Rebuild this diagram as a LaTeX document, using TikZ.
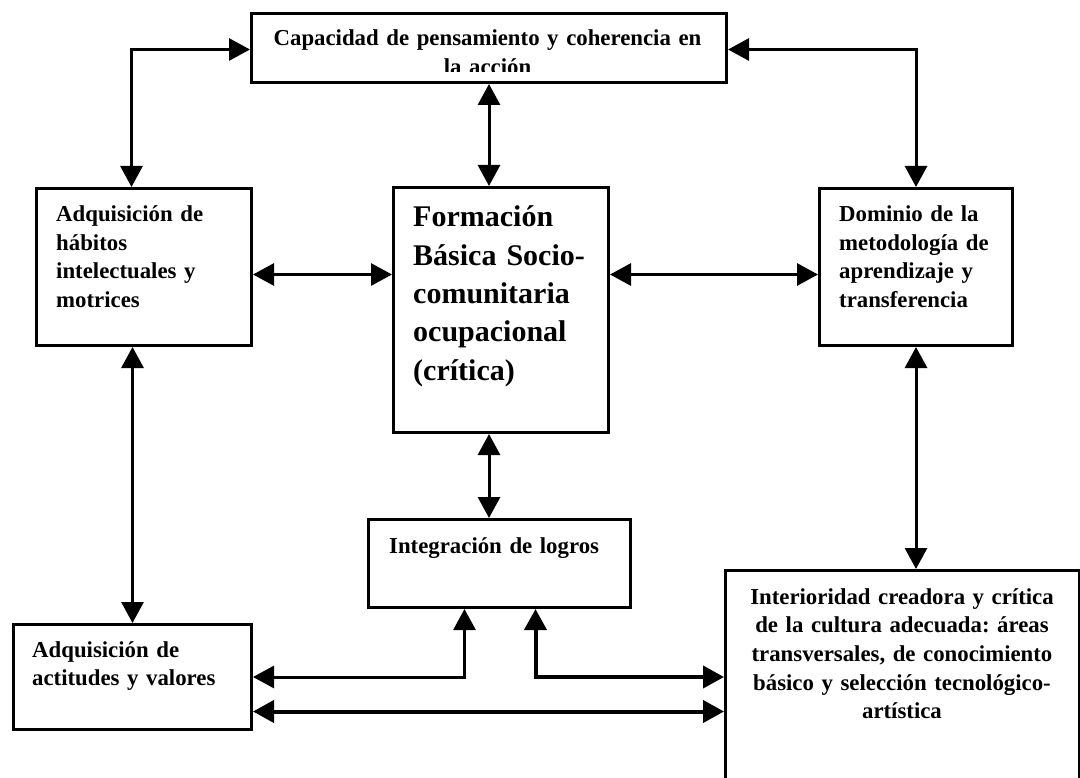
\documentclass[tikz,border=0pt]{standalone}
\usepackage{fontspec}
\setmainfont{Liberation Serif}
\usetikzlibrary{arrows.meta}
\frenchspacing

\tikzset{
  box/.style={draw, line width=3pt, rectangle, inner sep=0pt, anchor=north west},
  txt/.style={inner sep=0pt, anchor=base west, align=left, text width=#1,
              font=\bfseries\fontsize{22.8pt}{28.5pt}\selectfont},
  ctxt/.style={inner sep=0pt, anchor=base, align=center, text width=#1,
              font=\bfseries\fontsize{22.8pt}{28.7pt}\selectfont},
  bigtxt/.style={inner sep=0pt, anchor=base west, align=left, text width=#1,
              font=\bfseries\fontsize{30pt}{38.3pt}\selectfont},
  tip/.tip={Triangle[length=21pt,width=22pt]},
  link/.style={line width=3pt, tip-tip},
  heavylink/.style={line width=4pt, tip-tip}
}

\begin{document}
\begin{tikzpicture}[x=1pt,y=-1pt]
\useasboundingbox (0,0) rectangle (1080,778);

% boxes
\node[box, minimum width=475pt, minimum height=69pt]  (top)   at (250,12)  {};
\node[box, minimum width=215pt, minimum height=157pt] (lbox)  at (35,187)  {};
\node[box, minimum width=215pt, minimum height=245pt] (cbox)  at (392,186) {};
\node[box, minimum width=193pt, minimum height=157pt] (rbox)  at (818,187) {};
\node[box, minimum width=262pt, minimum height=88pt]  (integ) at (367,518) {};
\node[box, minimum width=238pt, minimum height=105pt] (blbox) at (12,623)  {};
\node[box, minimum width=354pt, minimum height=260pt] (brbox) at (724,569) {};

% texts
\node[ctxt=470pt] (toptxt) at (487.5,46) {Capacidad de pensamiento y coherencia en};
\begin{scope}
  \clip (250,12) rectangle (725,72);
  \node[ctxt=470pt] (toptxtb) at (487.5,75) {la acción};
\end{scope}
\node[txt=190pt] (ltxt) at (56,222) {Adquisición de\\hábitos\\intelectuales y\\motrices};
\node[bigtxt=190pt] (ctxt) at (413,227) {Formación\\Básica Socio-\\comunitaria\\ocupacional\\(crítica)};
\node[txt=175pt] (rtxt) at (839,222) {Dominio de la\\metodología de\\aprendizaje y\\transferencia};
\node[txt=235pt] (itxt) at (389,553) {Integración de logros};
\node[txt=215pt] (bltxt) at (32,657) {Adquisición de\\actitudes y valores};
\node[ctxt=345pt] (brtxt) at (902,604) {Interioridad creadora y crítica\\de la cultura adecuada: áreas\\transversales, de conocimiento\\básico y selección tecnológico-\\artística};

% connectors
\draw[link] ([yshift=-1.5pt]top.west) -| ([xshift=-12.5pt]lbox.north);
\draw[link] ([yshift=-1.5pt]top.east) -| (rbox.north);
\draw[link] (top.south) -- (top.south |- cbox.north);
\draw[link] ([yshift=-7.5pt]lbox.east) -- ([yshift=-7.5pt]lbox.east -| cbox.west);
\draw[link] ([yshift=35.5pt]cbox.east) -- ([yshift=35.5pt]cbox.east -| rbox.west);
\draw[link] (top.south |- cbox.south) -- (top.south |- integ.north);
\draw[link] (lbox.south -| blbox.north) -- (blbox.north);
\draw[link] (rbox.south) -- (rbox.south |- brbox.north);
\draw[link] (blbox.east) -| ([xshift=-35pt]integ.south);
\draw[heavylink] ([xshift=36pt]integ.south) |- (blbox.east -| brbox.west);
\draw[heavylink] ([yshift=-34.5pt]blbox.east) -- ([yshift=-34.5pt]blbox.east -| brbox.west);
\end{tikzpicture}
\end{document}
